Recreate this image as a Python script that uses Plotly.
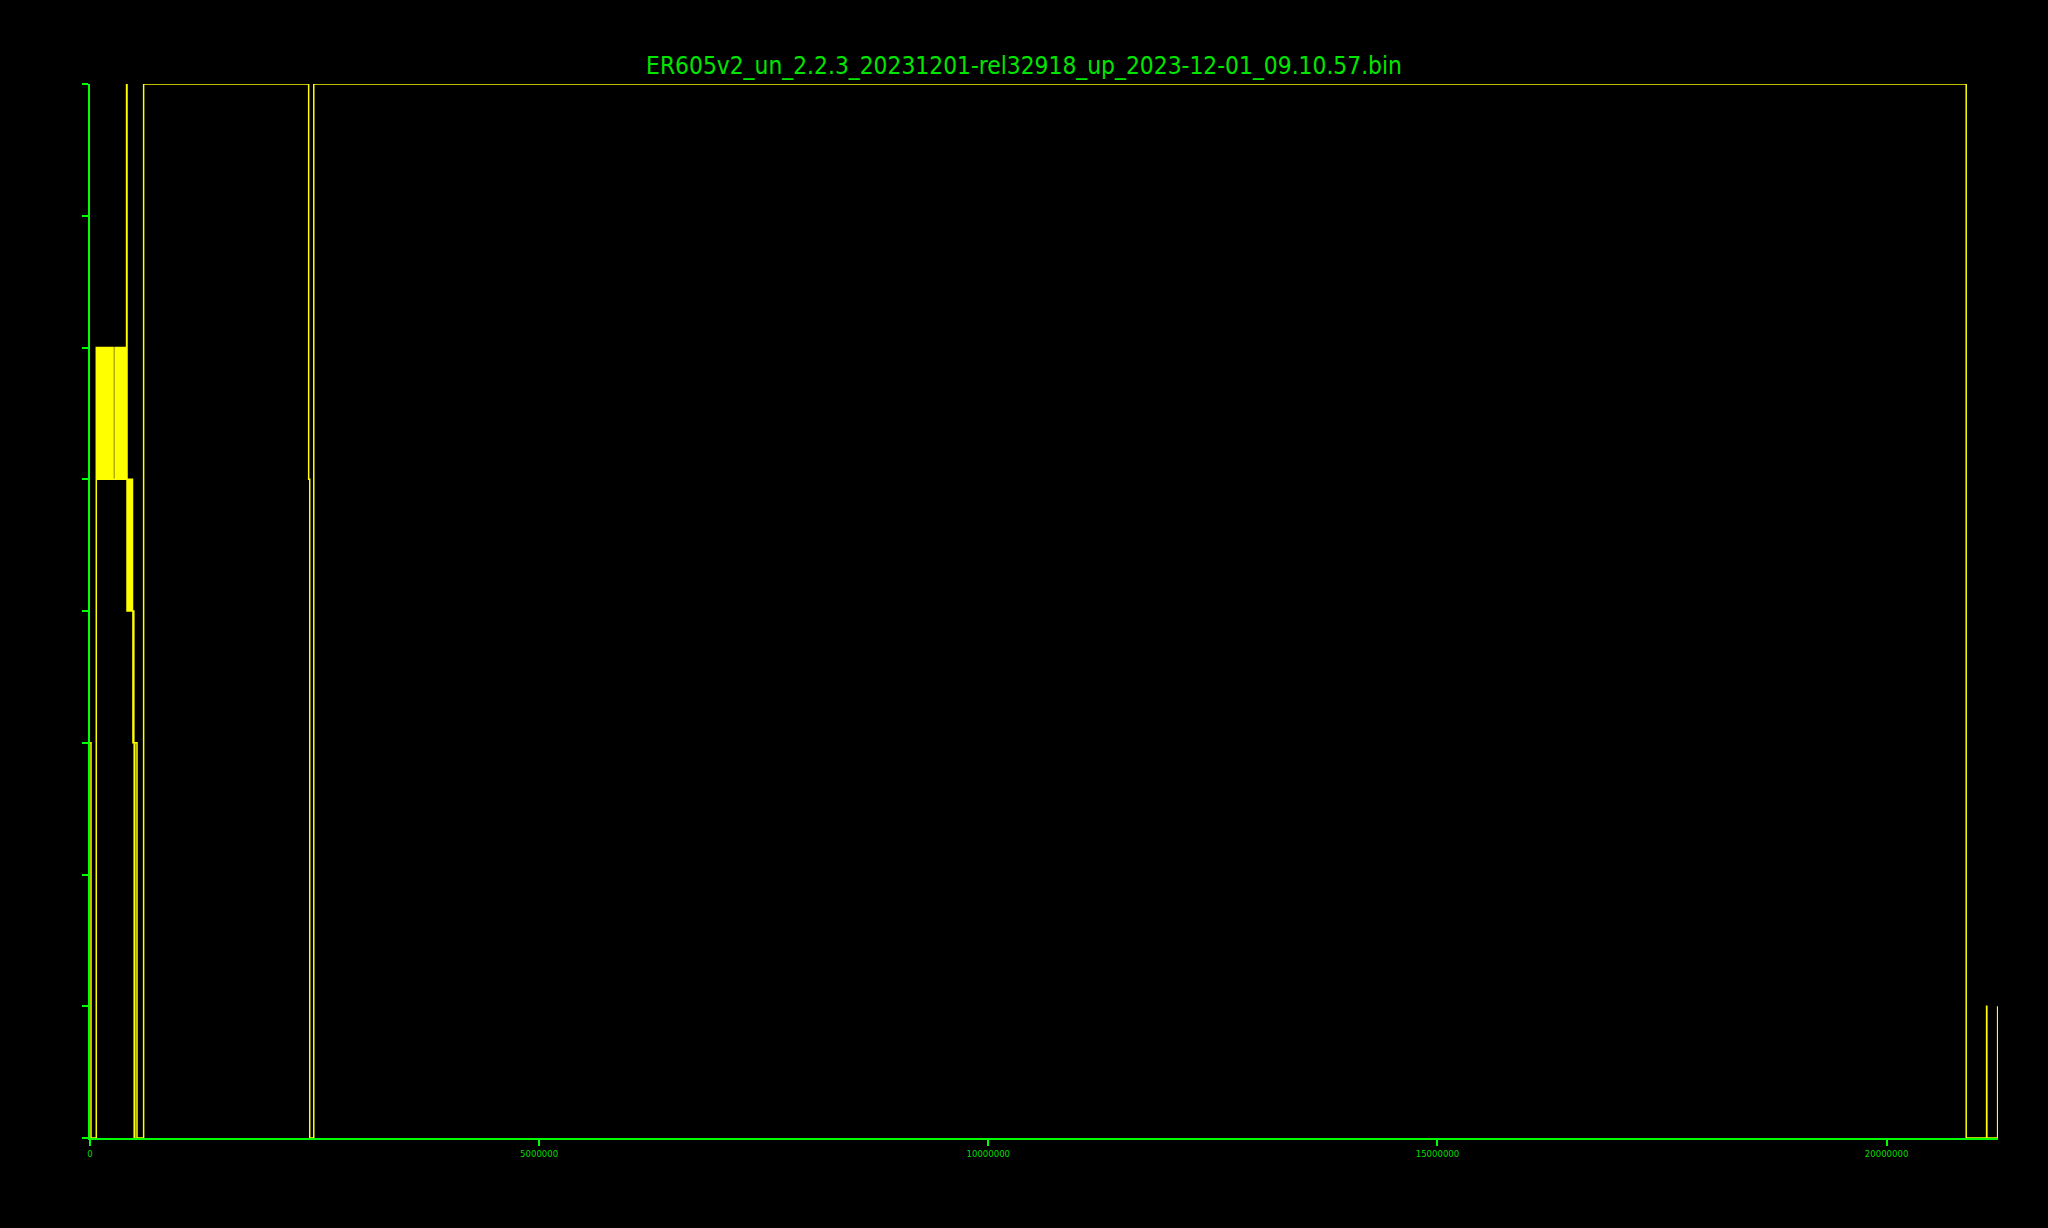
import plotly.graph_objects as go

title_text = "ER605v2_un_2.2.3_20231201-rel32918_up_2023-12-01_09.10.57.bin"

# byte offset where each level starts
offsets = [0, 11000, 70000, 81000, 92000, 103000, 114000, 125000, 136000, 147000,
           158000, 169000, 180000, 191000, 202000, 213000, 224000, 235000, 246000, 257000,
           279000, 290000, 301000, 312000, 323000, 334000, 345000, 356000, 367000, 378000,
           389000, 400000, 407000, 412000, 418000, 423000, 429000, 434000, 445000, 451000,
           456000, 462000, 467000, 473000, 478000, 483000, 488000, 492000, 499000, 523000,
           597000, 2434000, 2446000, 2491000, 20886000, 21113000, 21116000, 21236000]
# entropy level for each offset
entropy = [3, 0, 6, 5, 6, 5, 6, 5, 6, 5,
           6, 5, 6, 5, 6, 5, 6, 5, 6, 5,
           6, 5, 6, 5, 6, 5, 6, 5, 6, 5,
           6, 5, 8, 4, 5, 4, 5, 4, 5, 4,
           5, 4, 5, 4, 3, 4, 3, 0, 3, 0,
           8, 5, 0, 8, 0, 1, 0, 1]

x_ticks = [0, 5000000, 10000000, 15000000, 20000000]
x_tick_labels = ["0", "5000000", "10000000", "15000000", "20000000"]
y_ticks = [0, 1, 2, 3, 4, 5, 6, 7, 8]
x_max = 21240000

fig = go.Figure()
fig.add_trace(go.Scatter(
    x=offsets, y=entropy, mode="lines",
    line=dict(color="#ffff00", width=1.5, shape="hv"),
    hoverinfo="skip", showlegend=False,
))

fig.update_layout(
    width=2048, height=1228,
    paper_bgcolor="#000000", plot_bgcolor="#000000",
    margin=dict(l=90, r=50, t=84, b=90),
    title=dict(text=title_text, x=0.5, xanchor="center", xref="container",
               y=1 - 65 / 1228, yanchor="middle", yref="container",
               font=dict(family="DejaVu Sans Condensed, DejaVu Sans", size=24.3, color="#00e600")),
    showlegend=False,
)
fig.update_xaxes(
    range=[0, x_max], tickvals=x_ticks, ticktext=x_tick_labels,
    showline=True, linecolor="#00ff00", linewidth=1.5,
    ticks="outside", ticklen=6, tickcolor="#00ff00", tickwidth=1.5,
    tickfont=dict(family="DejaVu Sans Condensed, DejaVu Sans", size=9.5, color="#00dd00"),
    showgrid=False, zeroline=False,
)
fig.update_yaxes(
    range=[0, 8], tickvals=y_ticks, showticklabels=False,
    showline=True, linecolor="#00ff00", linewidth=1.5,
    ticks="outside", ticklen=6, tickcolor="#00ff00", tickwidth=1.5,
    showgrid=False, zeroline=False,
)

fig.write_html("out.html", config={"displayModeBar": False})
